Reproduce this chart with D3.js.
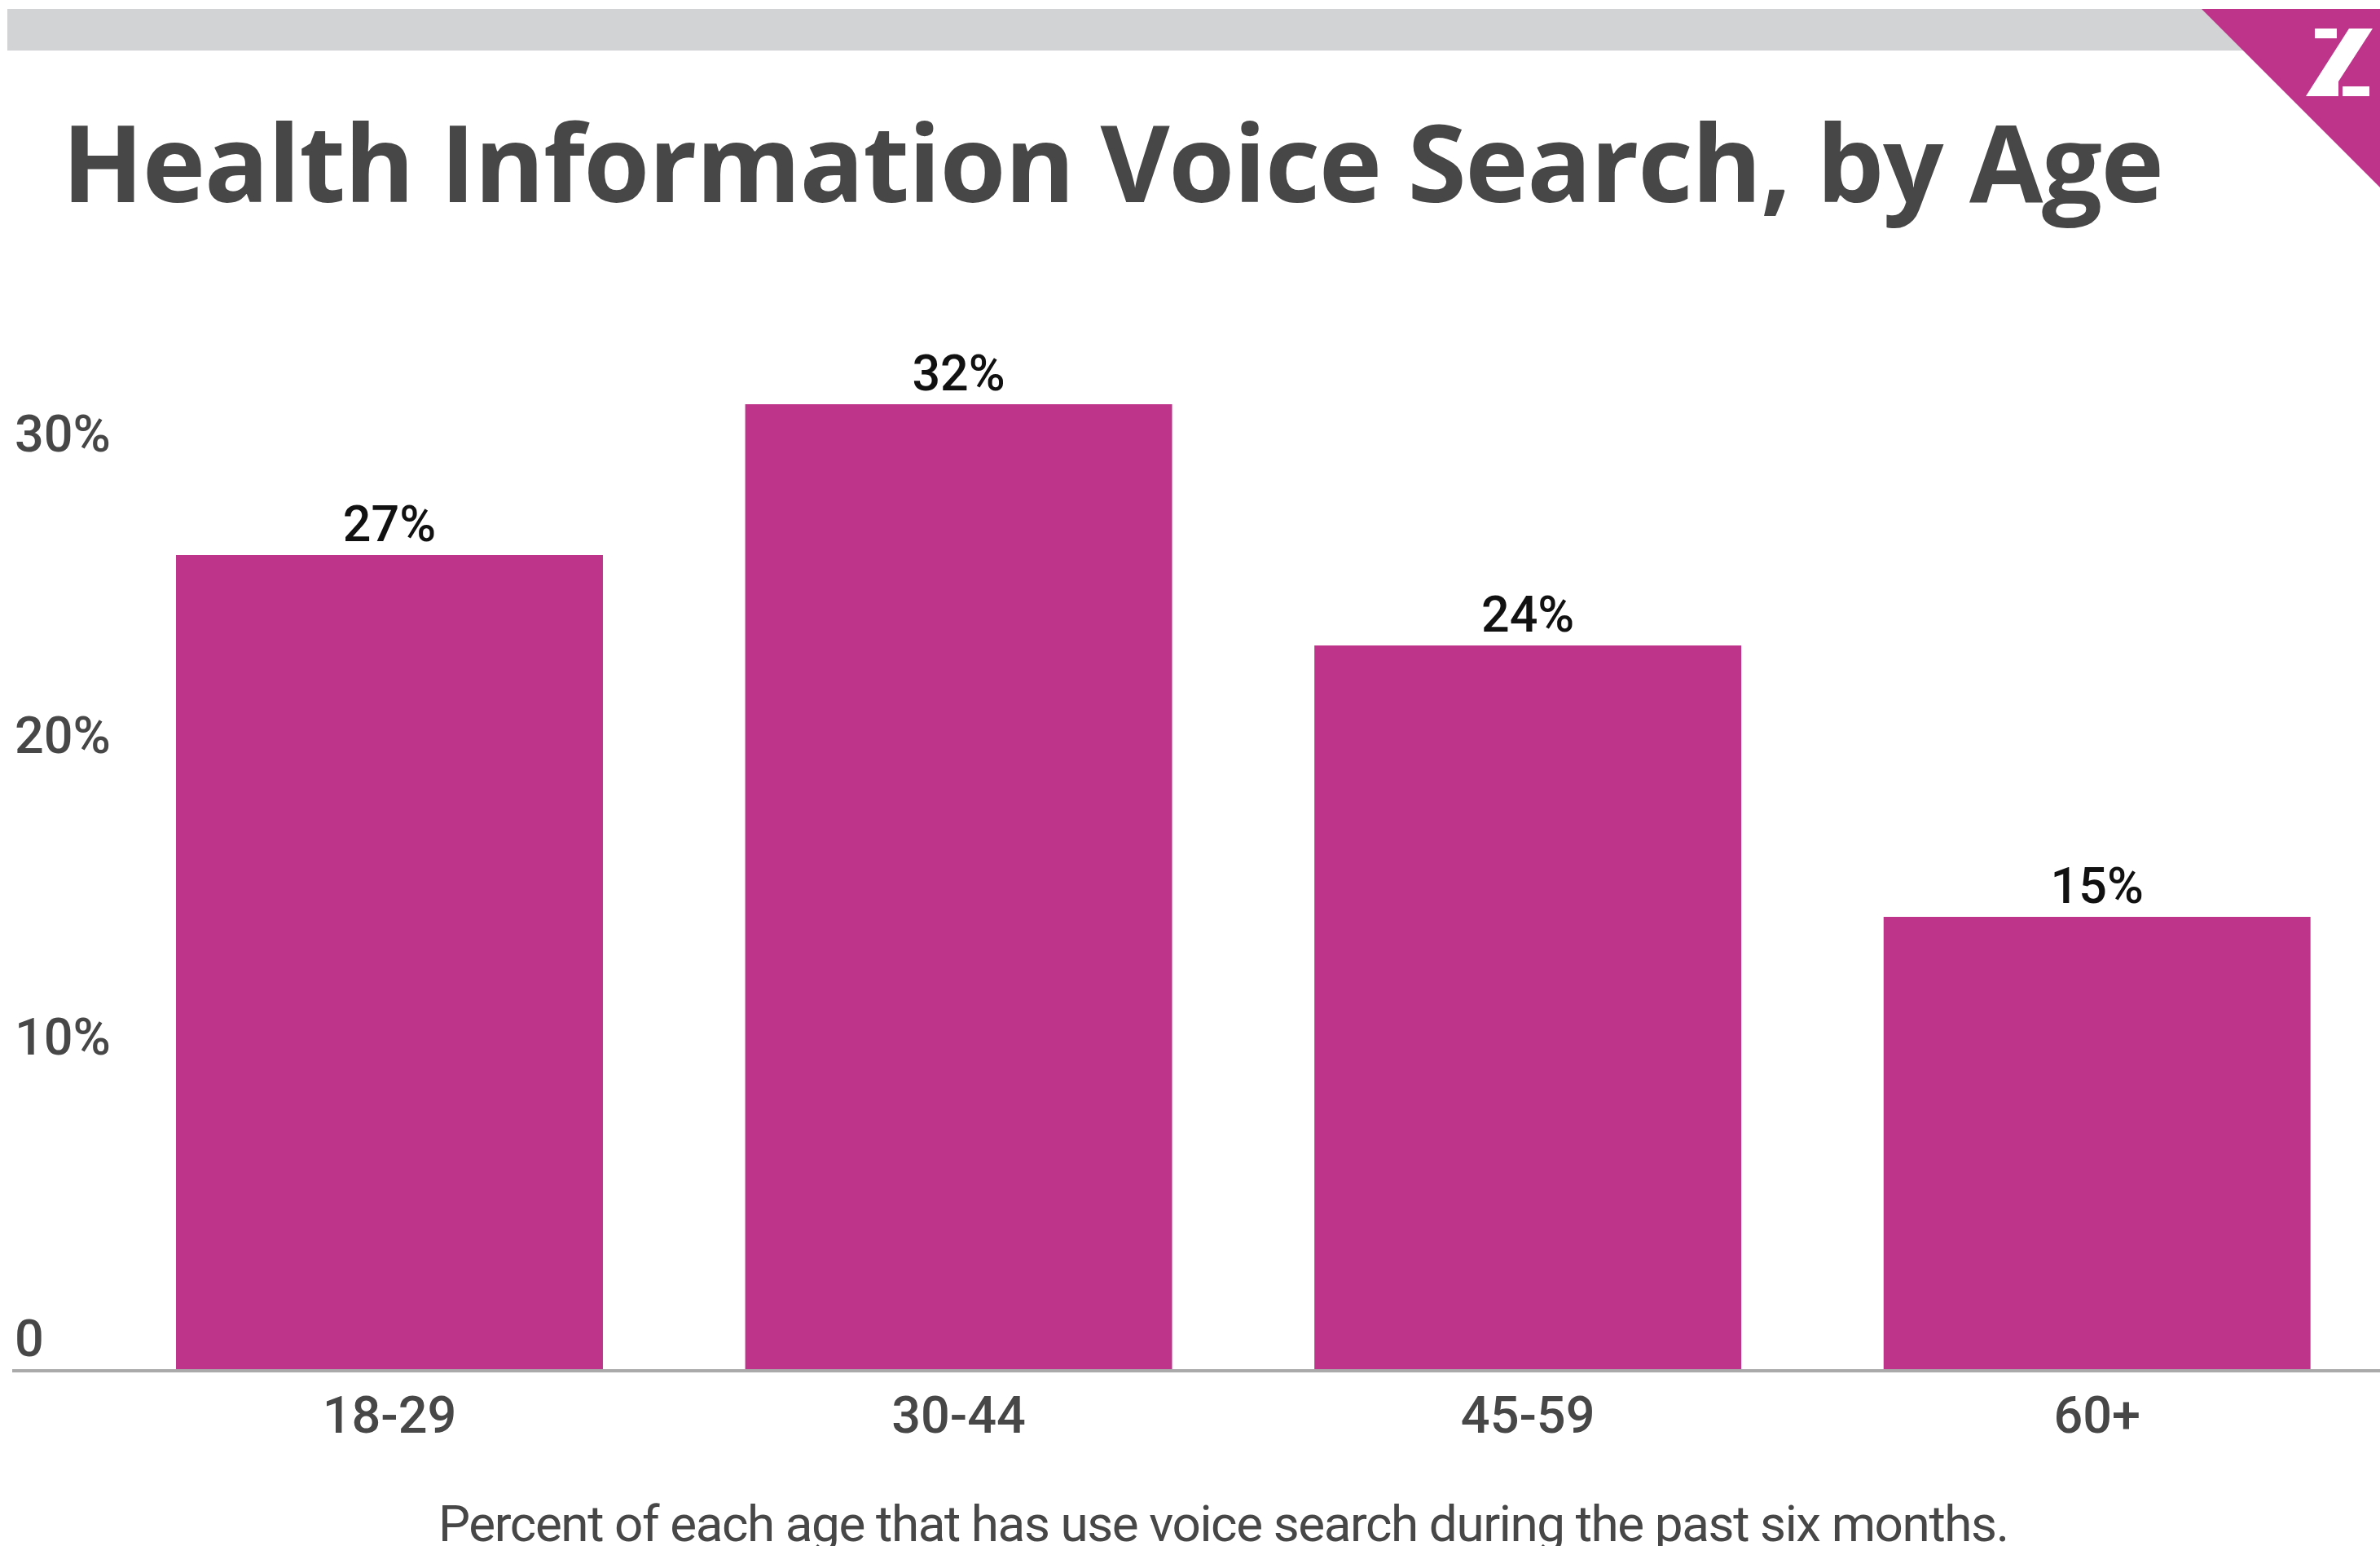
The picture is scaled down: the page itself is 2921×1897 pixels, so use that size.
<!DOCTYPE html>
<html>
<head>
<meta charset="utf-8">
<script src="https://cdn.jsdelivr.net/npm/d3@7"></script>
<style>
  html, body { margin: 0; padding: 0; background: #fff; }
  svg { display: block; }
</style>
</head>
<body>
<svg id="chart" width="2921" height="1897"></svg>
<script>
// chart data
const ageGroups = ["18-29", "30-44", "45-59", "60+"];
const shares = [27, 32, 24, 15];
const yTicks = [0, 10, 20, 30];
const titleText = "Health Information Voice Search, by Age";
const captionText = "Percent of each age that has use voice search during the past six months.";

const W = 2921, H = 1897;
const pink = "#be348b";
const ink = "#474747";

const svg = d3.select("#chart");

// top grey strip + corner badge
svg.append("rect")
    .attr("x", 9).attr("y", 11)
    .attr("width", 2780).attr("height", 51)
    .attr("fill", "#d1d3d4");

svg.append("polygon")
    .attr("points", "2702,11 2921,11 2921,230")
    .attr("fill", pink);

const logo = svg.append("g").attr("fill", "#fff");
logo.append("polygon").attr("points", "2841,35 2868,35 2868,47 2841,47");
logo.append("polygon").attr("points", "2883,35 2912,35 2870,100 2870,118 2830,118");
logo.append("polygon").attr("points", "2875,106 2908,106 2908,118 2875,118");

// title
svg.append("text")
    .attr("x", 76).attr("y", 248)
    .attr("font-family", "'Open Sans', sans-serif")
    .attr("font-weight", 700)
    .attr("font-size", 131)
    .attr("fill", ink)
    .attr("textLength", 2580)
    .attr("lengthAdjust", "spacing")
    .text(titleText);

// scales
const x = d3.scaleBand()
    .domain(ageGroups)
    .range([128.7, 2923])
    .paddingInner(0.25)
    .paddingOuter(0.125);

const y = d3.scaleLinear()
    .domain([0, 30])
    .range([1680, 570]);

// y axis labels (sit just above their value line, no gridlines)
const yAxis = svg.append("g")
    .attr("transform", "translate(18,0)")
    .call(d3.axisLeft(y)
        .tickValues(yTicks)
        .tickSize(0)
        .tickFormat(d => d === 0 ? "0" : d + "%"));
yAxis.select(".domain").remove();
yAxis.selectAll("text")
    .attr("x", 0)
    .attr("dy", -17)
    .attr("text-anchor", "start")
    .attr("font-family", "Roboto, sans-serif")
    .attr("font-weight", 500)
    .attr("font-size", 63)
    .attr("fill", ink);

// bars
svg.append("g")
    .selectAll("rect")
    .data(shares)
    .join("rect")
    .attr("x", (d, i) => x(ageGroups[i]))
    .attr("y", d => y(d))
    .attr("width", x.bandwidth())
    .attr("height", d => y(0) - y(d))
    .attr("fill", pink);

// value labels
svg.append("g")
    .selectAll("text")
    .data(shares)
    .join("text")
    .attr("x", (d, i) => x(ageGroups[i]) + x.bandwidth() / 2)
    .attr("y", d => y(d) - 17)
    .attr("text-anchor", "middle")
    .attr("font-family", "Roboto, sans-serif")
    .attr("font-weight", 500)
    .attr("font-size", 61)
    .attr("fill", "#111")
    .text(d => d + "%");

// baseline
svg.append("line")
    .attr("x1", 15).attr("x2", W)
    .attr("y1", y(0) + 2).attr("y2", y(0) + 2)
    .attr("stroke", "#aaa")
    .attr("stroke-width", 4);

// category axis
const xAxis = svg.append("g")
    .attr("transform", `translate(0,${y(0) + 2})`)
    .call(d3.axisBottom(x).tickSize(0));
xAxis.select(".domain").remove();
xAxis.selectAll("text")
    .attr("y", 76)
    .attr("dy", 0)
    .attr("font-family", "Roboto, sans-serif")
    .attr("font-weight", 500)
    .attr("font-size", 63)
    .attr("fill", ink);

// caption
svg.append("text")
    .attr("x", 538).attr("y", 1891)
    .attr("font-family", "Roboto, sans-serif")
    .attr("font-size", 62)
    .attr("fill", ink)
    .attr("textLength", 1928)
    .attr("lengthAdjust", "spacing")
    .text(captionText);
</script>
</body>
</html>
